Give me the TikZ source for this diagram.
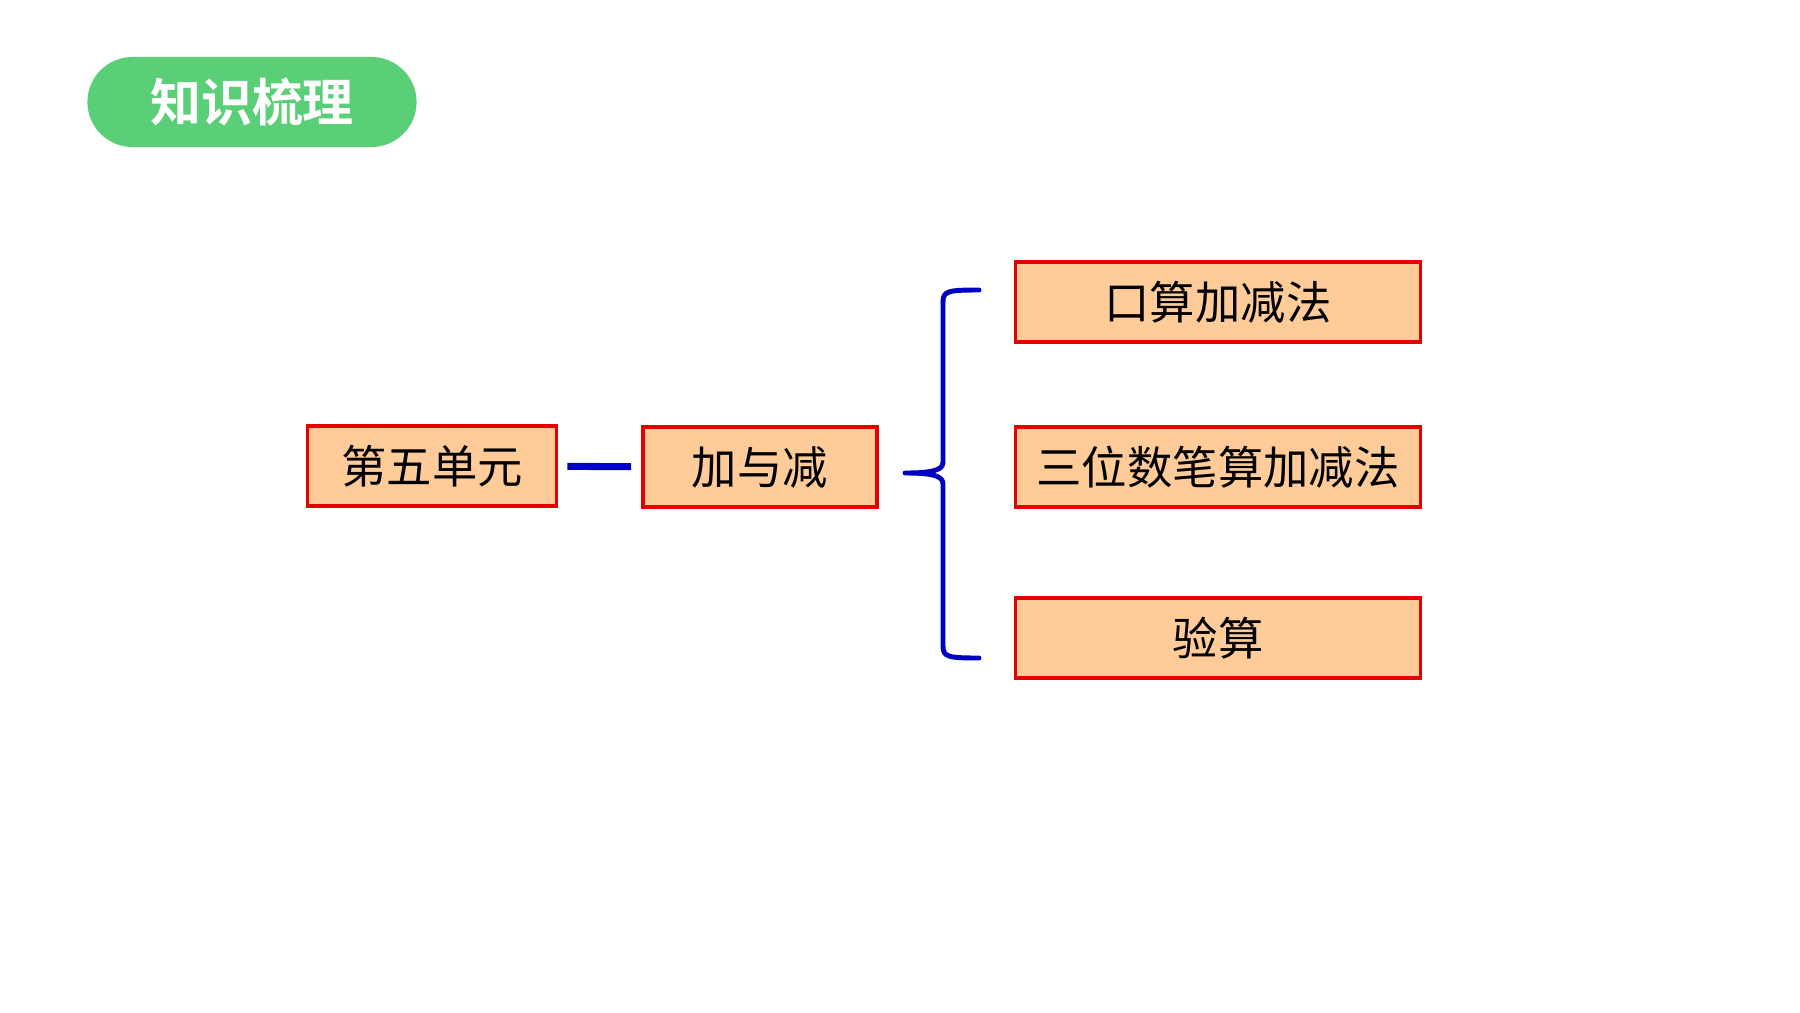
\documentclass[tikz,border=0pt]{standalone}
\usepackage{fontspec}
\setmainfont{Noto Sans CJK SC}[BoldFont={Noto Sans CJK SC Bold}]
\definecolor{pillgreen}{HTML}{5BCF78}
\definecolor{boxfill}{HTML}{FFCC99}
\definecolor{boxred}{HTML}{E60000}
\definecolor{linkblue}{HTML}{0000C0}
\tikzset{
  topic/.style={draw=boxred, fill=boxfill, line width=1pt, inner sep=0pt,
    minimum height=0.8cm, font=\fontsize{12.9}{14}\selectfont},
  link/.style={linkblue, line width=1.4pt, line cap=round, line join=round},
}

\begin{document}
\begin{tikzpicture}[x=0.01cm, y=-0.01cm]
      \def\bx{943}
      \def\tipx{905}
      \def\endx{979}

      \useasboundingbox (0,0) rectangle (1800,1012);

      % Title
      \node[fill=pillgreen, rounded corners=0.45cm, minimum width=3.29cm, minimum height=0.9cm,
        text=white, font=\fontsize{14.5}{16}\bfseries\selectfont] (title) at (252,102) {知识梳理};

      % Boxes
      \node[topic, minimum width=2.49cm] (unit) at (432,466) {第五单元};
      \node[topic, minimum width=2.34cm] (addsub) at (760,467) {加与减};
      \node[topic, minimum width=4.05cm] (oral) at (1218,302) {口算加减法};
      \node[topic, minimum width=4.05cm] (written) at (1218,467) {三位数笔算加减法};
      \node[topic, minimum width=4.05cm] (check) at (1218,638) {验算};

      % Links
      \draw[link, line width=2pt, line cap=butt, shorten <=0.09cm, shorten >=0.1cm] (unit) -- (addsub);
      \coordinate (tip) at (\tipx,473);
      \coordinate (top) at (\endx,290);
      \coordinate (bot) at (\endx,658);
      \draw[link] (top) .. controls (\bx+5,290) and (\bx,291) .. (\bx,302)
        -- (\bx,462) .. controls (\bx,470) and (\bx-10,473) .. (tip)
        .. controls (\bx-10,473) and (\bx,476) .. (\bx,484)
        -- (\bx,646) .. controls (\bx,657) and (\bx+5,658) .. (bot);
    \end{tikzpicture}
\end{document}
